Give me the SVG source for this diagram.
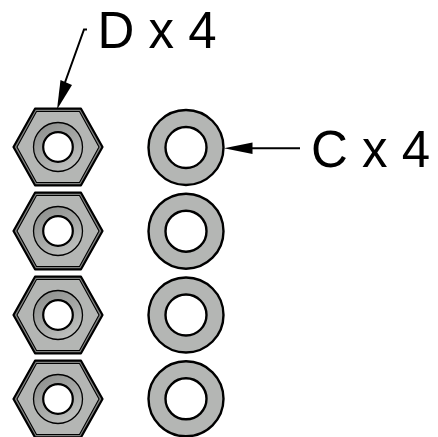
<svg xmlns="http://www.w3.org/2000/svg" width="438" height="437" viewBox="0 0 438 437">
<style>
.t{font-family:"Liberation Sans",Arial,sans-serif;font-size:51px;fill:#000}
.k{stroke:#000;stroke-linejoin:round}
.hex{fill:#808280;stroke-width:2.200}
.hi{fill:#b4b6b4;stroke-width:1.100}
.cs{fill:url(#g);stroke-width:1.300}
.h{fill:#fff;stroke-width:2.200}
.wo{fill:#b4b6b4;stroke-width:2.400}
.wi{fill:#fff;stroke-width:2.400}
.l{stroke:#000;stroke-width:2;fill:none}
</style>
<defs>
<linearGradient id="g" x1="0.2" y1="0" x2="0.8" y2="1"><stop offset="0" stop-color="#8e908e"/><stop offset="0.55" stop-color="#a8aaa8"/><stop offset="1" stop-color="#c2c4c2"/></linearGradient>
<g id="nut">
<path class="k hex" d="M-44.500 0L-23 -38.300H23L44.500 0L23 38.300H-23Z"/>
<path class="k hi" d="M-41 0L-21.500 -35.500H21.500L41 0L21.500 35.500H-21.500Z"/>
<circle class="k cs" r="24.500"/>
<circle class="k h" r="14.800"/>
</g>
<g id="washer">
<circle class="k wo" r="37.500"/>
<circle class="k wi" r="20.500"/>
</g>
</defs>
<g id="connectors">
<path class="l" d="M87 29.500H84L63 88"/>
<path d="M57 109.500L60.500 80L72 85Z" fill="#000"/>
<path class="l" d="M300 148.200H250"/>
<path d="M224 148.200L252.500 142.500V154Z" fill="#000"/>
</g>
<g id="nut1"><use href="#nut" x="58" y="147"/></g>
<g id="nut2"><use href="#nut" x="58" y="231"/></g>
<g id="nut3"><use href="#nut" x="58" y="315"/></g>
<g id="nut4"><use href="#nut" x="58" y="399"/></g>
<g id="washer1"><use href="#washer" x="186" y="147.500"/></g>
<g id="washer2"><use href="#washer" x="186" y="231.200"/></g>
<g id="washer3"><use href="#washer" x="186" y="315"/></g>
<g id="washer4"><use href="#washer" x="186" y="398.800"/></g>
<g id="label-d"><text class="t" x="97.500" y="48">D x 4</text></g>
<g id="label-c"><text class="t" x="311" y="167">C x 4</text></g>
</svg>
